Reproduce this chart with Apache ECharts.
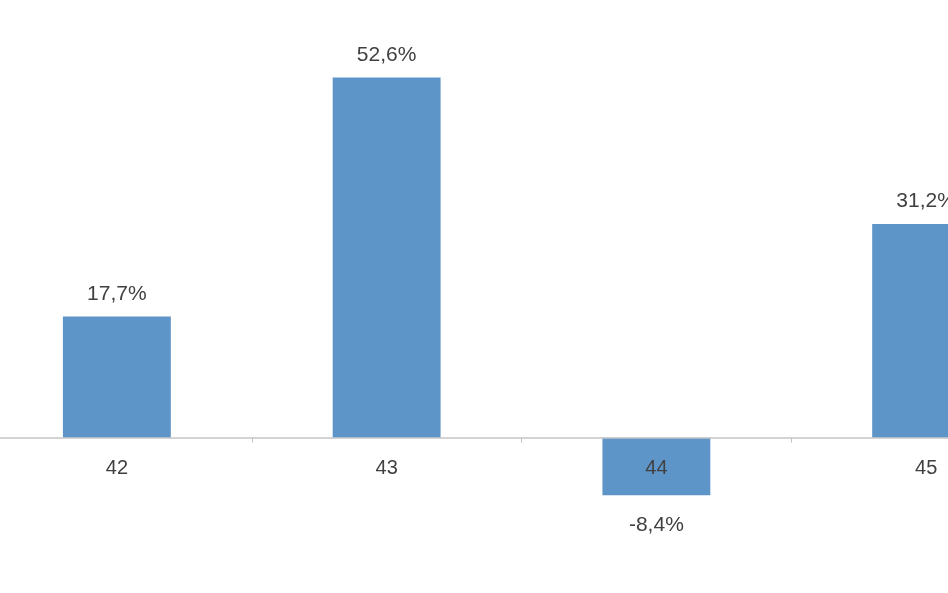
<!DOCTYPE html>
<html>
<head>
<meta charset="utf-8">
<style>
html,body{margin:0;padding:0;background:#fff;overflow:hidden;width:948px;height:593px;}
#c{position:absolute;left:-18px;top:0;width:1079px;height:593px;}
</style>
<script src="https://cdn.jsdelivr.net/npm/echarts@6/dist/echarts.min.js"></script>
</head>
<body>
<div id="c"></div>
<script>
const categories = ['42', '43', '44', '45'];
const values = [17.7, 52.6, -8.4, 31.2];

const yMin = -20, yMax = 60;
const gridTop = 26.7, gridBottom = 18.3, chartH = 593;
const plotH = chartH - gridTop - gridBottom;
const zeroOffset = -plotH * (0 - yMin) / (yMax - yMin);

const chart = echarts.init(document.getElementById('c'), null, {renderer: 'canvas'});
const fmt = v => v.toFixed(1).replace('.', ',') + '%';
chart.setOption({
  animation: false,
  backgroundColor: '#ffffff',
  grid: {left: 0, right: 0, top: gridTop, bottom: gridBottom, containLabel: false},
  xAxis: {
    type: 'category',
    data: categories,
    boundaryGap: true,
    position: 'bottom',
    offset: zeroOffset,
    axisLine: {onZero: false, lineStyle: {color: '#c4c4c4', width: 1.5}},
    axisTick: {show: true, length: 5, lineStyle: {color: '#c4c4c4'}},
    axisLabel: {color: '#404040', fontSize: 20, fontFamily: 'Liberation Sans, Arial, sans-serif', margin: 21},
    z: 10
  },
  yAxis: {
    type: 'value', min: yMin, max: yMax, show: false,
    splitLine: {show: false}
  },
  series: [{
    type: 'bar',
    barWidth: '40%',
    itemStyle: {color: '#5e95c9'},
    data: values.map(v => ({
      value: v,
      label: {position: v < 0 ? 'bottom' : 'top', distance: v < 0 ? 19 : 12}
    })),
    label: {
      show: true,
      color: '#404040',
      fontSize: 21,
      fontFamily: 'Liberation Sans, Arial, sans-serif',
      formatter: p => fmt(p.value)
    }
  }]
});
</script>
</body>
</html>
